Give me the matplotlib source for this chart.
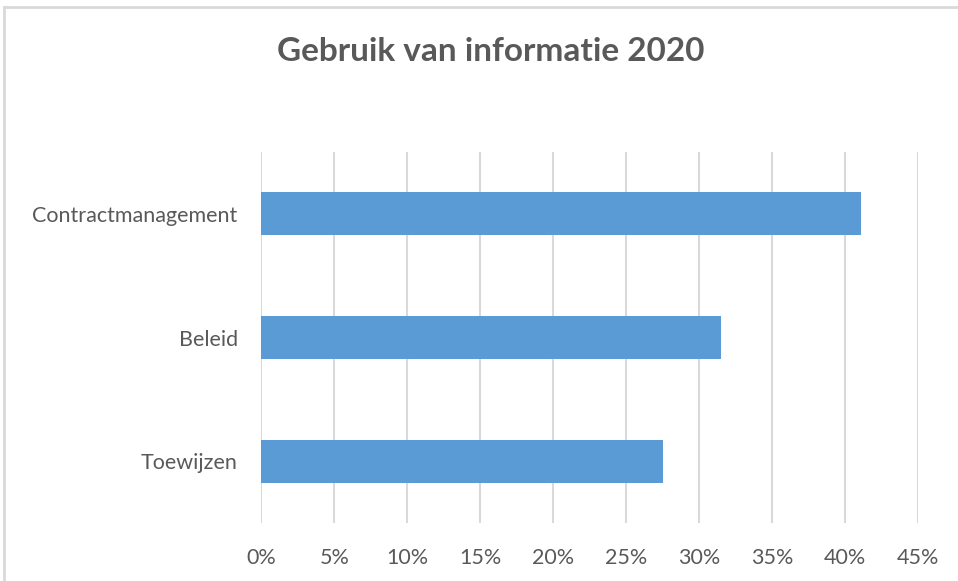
import matplotlib
matplotlib.use("Agg")
import matplotlib.pyplot as plt
from matplotlib.lines import Line2D
from matplotlib.ticker import FuncFormatter

# data
categories = ["Toewijzen", "Beleid", "Contractmanagement"]
values = [27.5, 31.5, 41.1]
xticks = [0, 5, 10, 15, 20, 25, 30, 35, 40, 45]

plt.rcParams['font.family'] = ['Lato', 'DejaVu Sans']
txt = '#595959'
grid = '#D9D9D9'

fig = plt.figure(figsize=(9.58, 5.81), dpi=100)
ax = fig.add_axes([0.2728, 0.0998, 0.6858, 0.6386])

ax.barh(range(len(categories)), values, height=0.35, color='#5B9BD5', zorder=3)

ax.set_xlim(0, 45)
ax.set_ylim(-0.5, 2.5)
ax.set_xticks(xticks)
ax.xaxis.set_major_formatter(FuncFormatter(lambda v, p: f"{v:.0f}%"))
ax.set_yticks(range(len(categories)))
ax.set_yticklabels(categories)

ax.grid(axis='x', color=grid, linewidth=1.5, zorder=0)
for s in ax.spines.values():
    s.set_visible(False)
ax.tick_params(axis='both', length=0, colors=txt, labelsize=15.5)
ax.tick_params(axis='x', pad=18)
ax.tick_params(axis='y', pad=17)

fig.text(0.512, 0.912, "Gebruik van informatie 2020", ha='center', va='center',
         fontsize=24, fontweight='bold', color=txt)

# outer frame of the chart area
fig.add_artist(Line2D([4/958, 1], [1-7/581, 1-7/581], color=grid, linewidth=2))
fig.add_artist(Line2D([4/958, 4/958], [0, 1-7/581], color=grid, linewidth=2))

fig.savefig("out.png", dpi=100)
